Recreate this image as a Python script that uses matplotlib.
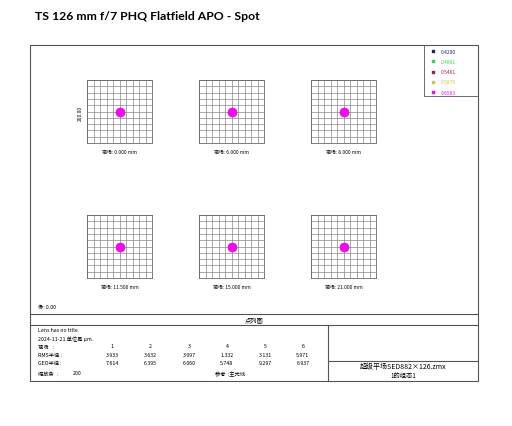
import matplotlib
matplotlib.use("Agg")
import matplotlib.pyplot as plt
from matplotlib.patches import Rectangle

plt.rcParams['font.family'] = ['Noto Sans CJK SC', 'DejaVu Sans']

title = "TS 126 mm f/7 PHQ Flatfield APO - Spot"
wavelengths = ["0.4200", "0.4861", "0.5461", "0.5876", "0.6563"]
wave_colors = ["#20207a", "#40d040", "#a02040", "#c8c840", "#ff00ff"]
field_labels = ["0.000 mm", "6.000 mm", "8.000 mm", "11.500 mm", "15.000 mm", "21.000 mm"]
# spot centroid offsets (um) per field
spot_x = [0.0, 0.0, 0.0, 0.0, 0.0, 0.0]
spot_y = [0.0, 0.0, 0.0, 0.0, 0.0, 0.0]
rms_radius = ["3.933", "3.632", "3.097", "1.332", "3.131", "5.971"]
geo_radius = ["7.614", "6.395", "6.060", "5.748", "9.297", "6.937"]
scale_bar = 200

W, H = 512, 427
fig = plt.figure(figsize=(W / 100, H / 100), dpi=100)

# overlay axes in pixel coordinates
ax0 = fig.add_axes([0, 0, 1, 1])
ax0.set_xlim(0, W)
ax0.set_ylim(H, 0)
ax0.axis("off")

lc = "#555555"
ax0.add_patch(Rectangle((30, 46), 448, 336, fill=False, ec=lc, lw=0.8))
ax0.plot([30, 478], [315, 315], color=lc, lw=0.8)
ax0.plot([30, 478], [326, 326], color=lc, lw=0.8)
ax0.plot([328, 328], [326, 382], color=lc, lw=0.8)
ax0.plot([328, 478], [362, 362], color=lc, lw=0.8)
ax0.add_patch(Rectangle((424, 46), 54, 51, fill=False, ec=lc, lw=0.6))

ax0.text(35, 16, title, fontsize=8.8, fontweight="bold", family=["Lato", "DejaVu Sans"],
         va="center", ha="left")

# legend
for i, (wl, c) in enumerate(zip(wavelengths, wave_colors)):
    yy = 52 + i * 10.3
    ax0.scatter([433], [yy], s=3, color=c, marker="s")
    ax0.text(441, yy, wl, fontsize=3.5, color=c, va="center", ha="left")

# spot panels
lefts = [87, 199, 311]
tops = [81, 216]
pw, ph = 65, 63
half = scale_bar / 2
for k in range(6):
    r, c = divmod(k, 3)
    x0, y0 = lefts[c], tops[r]
    ax = fig.add_axes([x0 / W, 1 - (y0 + ph) / H, pw / W, ph / H])
    ax.set_xlim(-half, half)
    ax.set_ylim(-half, half)
    for g in range(-100, 101, 20):
        ax.axvline(g, color="#888888", lw=0.5)
        ax.axhline(g, color="#888888", lw=0.5)
    ax.set_xticks([])
    ax.set_yticks([])
    for s in ax.spines.values():
        s.set_color("#666666")
        s.set_linewidth(0.6)
    for wc in wave_colors:
        ax.scatter([spot_x[k]], [spot_y[k]], s=32, color=wc, zorder=3)
    ax0.text(x0 + pw / 2, y0 + ph + 8, "视场: " + field_labels[k], fontsize=3.5,
             ha="center", va="center")

ax0.text(80, 113, "%.2f" % scale_bar, fontsize=3.5, rotation=90, ha="center", va="center")

# bottom info
fs = 3.8
ax0.text(38, 308, "像: 0.00", fontsize=fs, va="center")
ax0.text(254, 320.5, "点列图", fontsize=4.5, ha="center", va="center")
ax0.text(38, 331, "Lens has no title.", fontsize=fs, va="center")
ax0.text(38, 339, "2024-11-21 单位是 μm.", fontsize=fs, va="center")
ax0.text(38, 347, "视场    :", fontsize=fs, va="center")
ax0.text(38, 356, "RMS半径 :", fontsize=fs, va="center")
ax0.text(38, 364, "GEO半径 :", fontsize=fs, va="center")
ax0.text(38, 374, "缩放条   :", fontsize=fs, va="center")
ax0.text(73, 374, str(scale_bar), fontsize=fs, va="center")
col_x = [112, 150, 189, 227, 265, 303]
for i, cx in enumerate(col_x):
    ax0.text(cx, 347, str(i + 1), fontsize=fs, ha="center", va="center")
    ax0.text(cx, 356, rms_radius[i], fontsize=fs, ha="center", va="center")
    ax0.text(cx, 364, geo_radius[i], fontsize=fs, ha="center", va="center")
ax0.text(215, 374, "参考  :主光线", fontsize=fs, va="center")
ax0.text(403, 367, "超级平场SED882×126.zmx", fontsize=5, ha="center", va="center")
ax0.text(403, 376, "1的组态1", fontsize=4.5, ha="center", va="center")

fig.savefig("out.png", dpi=100)
